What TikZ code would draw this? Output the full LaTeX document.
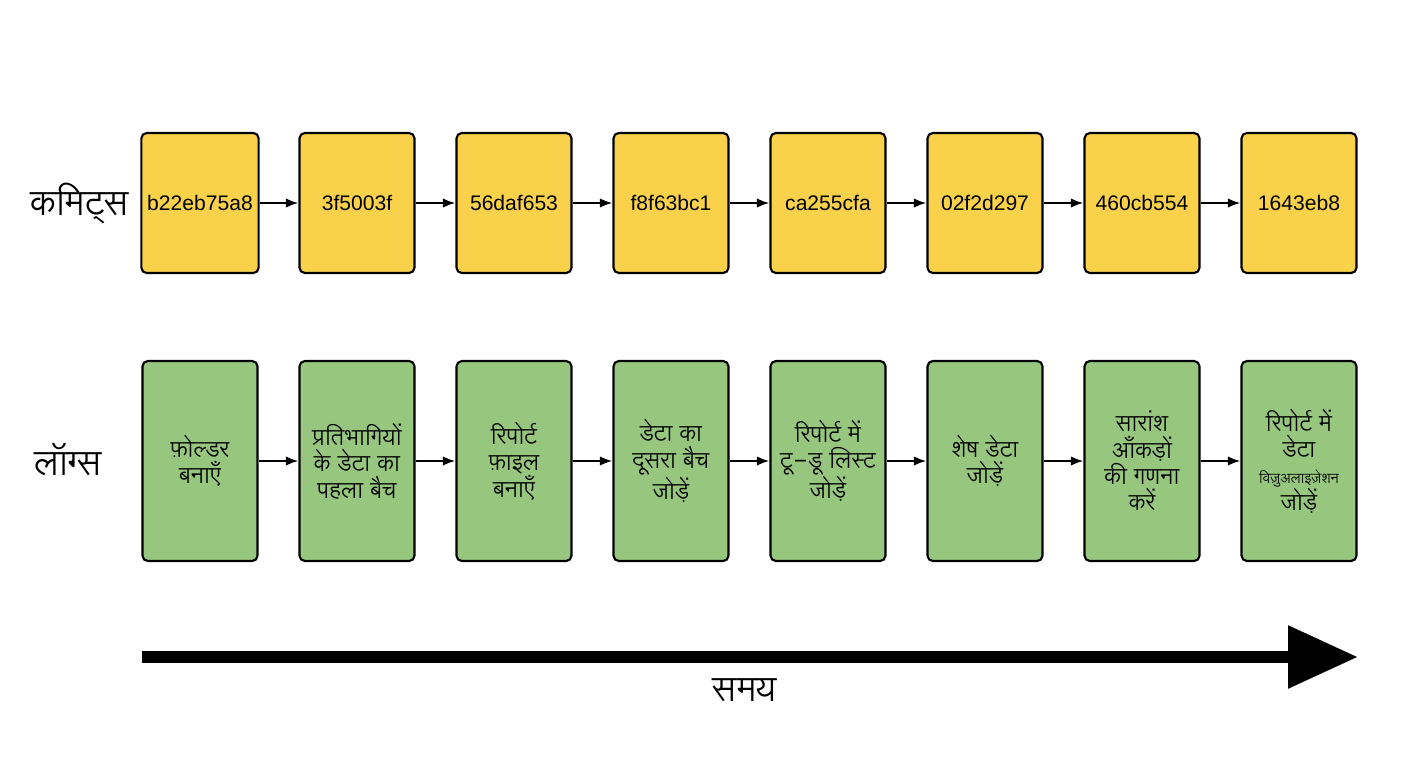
\documentclass[tikz,border=0pt]{standalone}
\usepackage{fontspec}
\setmainfont{Liberation Sans}
\IfFontExistsTF{Lohit Devanagari}{\newfontfamily\hindi{Lohit Devanagari}[Script=Devanagari]}{%
\IfFontExistsTF{FreeSans}{\newfontfamily\hindi{FreeSans}[Script=Devanagari]}{%
\IfFontExistsTF{Gargi}{\newfontfamily\hindi{Gargi}[Script=Devanagari]}{%
\newfontfamily\hindi{Liberation Sans}}}}
\usetikzlibrary{arrows.meta,positioning}
\definecolor{CommitYellow}{HTML}{F9D14B}
\definecolor{LogGreen}{HTML}{97C77E}
\tikzset{
    commit/.style = {draw, rounded corners=3pt, line width=1.2pt, fill=CommitYellow,
        minimum width=2.3cm, minimum height=2.8cm, align=center, font=\fontsize{12}{14}\selectfont},
    logbox/.style = {draw, rounded corners=3pt, line width=1.2pt, fill=LogGreen,
        minimum width=2.3cm, minimum height=4cm, align=center, font=\hindi\fontsize{13}{15}\selectfont},
    arrow/.style = {draw, -{Latex[length=2.5mm]}, line width=1.2pt},
    rowlabel/.style = {font=\hindi\fontsize{20}{22}\selectfont}
}
\begin{document}
\begin{tikzpicture}[x=0.02cm,y=-0.02cm]
    \useasboundingbox (0,0) rectangle (1408,768);
    % commits
    \foreach \i/\h in {1/b22eb75a8,2/3f5003f,3/56daf653,4/f8f63bc1,5/ca255cfa,6/02f2d297,7/460cb554,8/1643eb8}
        \node [commit] (c\i) at ({200+157*(\i-1)},203) {\h};
    % logs
    \foreach \i/\t in {1/{फ़ोल्डर\\बनाएँ},2/{प्रतिभागियों\\के डेटा का\\पहला बैच},3/{रिपोर्ट\\फ़ाइल\\बनाएँ},4/{डेटा का\\दूसरा बैच\\जोड़ें},5/{रिपोर्ट में\\टू-डू लिस्ट\\जोड़ें},6/{शेष डेटा\\जोड़ें},7/{सारांश\\आँकड़ों\\की गणना\\करें},8/{रिपोर्ट में\\डेटा\\{\fontsize{8}{10}\selectfont विज़ुअलाइज़ेशन}\\जोड़ें}}
        \node [logbox] (l\i) at ({200+157*(\i-1)},461) {\t};
    \foreach \i [evaluate=\i as \j using int(\i+1)] in {1,...,7} {
        \draw [arrow] (c\i) -- (c\j);
        \draw [arrow] (l\i) -- (l\j);
    }
    \node [rowlabel] (commits) at (80,203) {कमिट्स};
    \node [rowlabel] (logs) at (68,460) {लॉग्स};
    % time axis
    \coordinate (tstart) at (142,657);
    \coordinate (tend) at (1358,657);
    \draw [line width=7pt, -{Triangle[length=1.4cm,width=1.2cm]}] (tstart) -- (tend);
    \node [rowlabel] (time) at (745,690) {समय};
\end{tikzpicture}
\end{document}
